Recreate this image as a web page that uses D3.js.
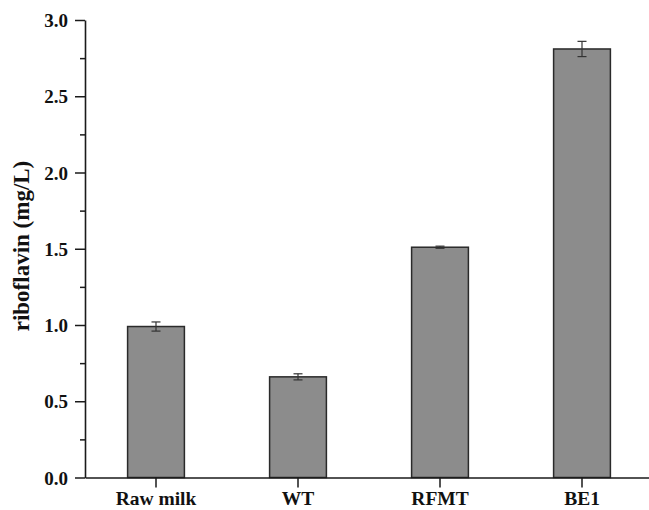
<!DOCTYPE html>
<html lang="en">
<head>
    <meta charset="UTF-8">
    <script src="https://d3js.org/d3.v7.min.js"></script>
    <title>Riboflavin</title>
    <style>
        body { margin: 0; background: #fff; }
        text { font-family: "Liberation Serif", "Times New Roman", serif; font-weight: bold; fill: #111; }
    </style>
</head>
<body>
    <div id="chart"></div>
<script>
    // data
    var categories = ["Raw milk", "WT", "RFMT", "BE1"];
    var values = [0.99, 0.66, 1.51, 2.81];
    var errors = [0.03, 0.02, 0.007, 0.05];
    var yTicks = [0, 0.5, 1.0, 1.5, 2.0, 2.5, 3.0];
    var yMinorTicks = [0.25, 0.75, 1.25, 1.75, 2.25, 2.75];

    // plot box (window.top is taken, so own names)
    var W = 649, H = 510;
    var plotLeft = 85, plotRight = 653, plotTop = 20, plotBottom = 477.5;

    var svg = d3.select("#chart")
      .append("svg")
        .attr("width", W)
        .attr("height", H);

    var x = d3.scaleBand()
      .domain(categories)
      .range([plotLeft, plotRight])
      .paddingInner(0.6)
      .paddingOuter(0.3);

    var y = d3.scaleLinear()
      .domain([0, 3])
      .range([plotBottom, plotTop]);

    // bars
    svg.append("g").selectAll("rect")
      .data(values)
      .enter()
      .append("rect")
        .attr("x", function(d, i) { return x(categories[i]); })
        .attr("y", function(d) { return y(d); })
        .attr("width", x.bandwidth())
        .attr("height", function(d) { return y(0) - y(d); })
        .style("fill", "#8c8c8c")
        .style("stroke", "#2a2a2a")
        .style("stroke-width", 1.5);

    // error bars
    var eb = svg.append("g").selectAll("g")
      .data(values)
      .enter()
      .append("g")
        .attr("transform", function(d, i) { return "translate(" + (x(categories[i]) + x.bandwidth() / 2) + ",0)"; })
        .style("stroke", "#333")
        .style("stroke-width", 1.2);
    eb.append("line")
      .attr("y1", function(d, i) { return y(d - errors[i]); })
      .attr("y2", function(d, i) { return y(d + errors[i]); });
    eb.append("line")
      .attr("x1", -4.5).attr("x2", 4.5)
      .attr("y1", function(d, i) { return y(d + errors[i]); })
      .attr("y2", function(d, i) { return y(d + errors[i]); });
    eb.append("line")
      .attr("x1", -4.5).attr("x2", 4.5)
      .attr("y1", function(d, i) { return y(d - errors[i]); })
      .attr("y2", function(d, i) { return y(d - errors[i]); });

    // Y axis
    var yAxis = svg.append("g")
      .attr("transform", "translate(" + plotLeft + ",0)")
      .call(d3.axisLeft(y).tickValues(yTicks).tickFormat(d3.format(".1f")).tickSize(10).tickPadding(7).tickSizeOuter(0));
    yAxis.selectAll("text").style("font-size", "19px").attr("dy", "0.35em");

    svg.append("g")
      .attr("transform", "translate(" + plotLeft + ",0)")
      .call(d3.axisLeft(y).tickValues(yMinorTicks).tickFormat("").tickSize(5).tickSizeOuter(0))
      .select(".domain").remove();

    // X axis
    var xAxis = svg.append("g")
      .attr("transform", "translate(0," + plotBottom + ")")
      .call(d3.axisBottom(x).tickSize(10).tickPadding(4).tickSizeOuter(0));
    xAxis.selectAll("text").style("font-size", "19.5px");

    svg.selectAll(".domain, .tick line")
      .style("stroke", "#1a1a1a")
      .style("stroke-width", 1.5);
    svg.selectAll(".domain").style("stroke-width", 1.6);

    // Y label
    svg.append("text")
      .attr("transform", "translate(29,246) rotate(-90)")
      .attr("text-anchor", "middle")
      .style("font-size", "23px")
      .text("riboflavin (mg/L)");
</script>
</body>
</html>
